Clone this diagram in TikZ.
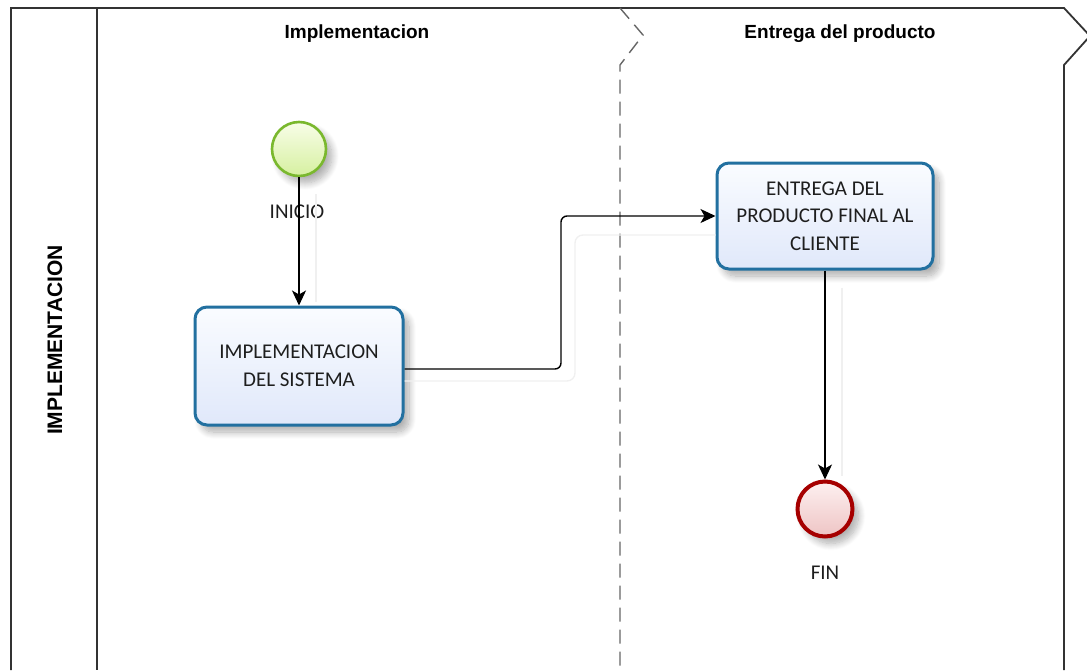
\documentclass[tikz,border=0pt]{standalone}
\usepackage{fontspec}
\setmainfont{Carlito}
\newfontfamily\headfont{Liberation Sans}
\usetikzlibrary{arrows.meta,shadows.blur}

\definecolor{taskedge}{RGB}{34,112,160}
\definecolor{tasktop}{RGB}{250,252,255}
\definecolor{taskbot}{RGB}{224,232,250}
\definecolor{startedge}{RGB}{122,184,46}
\definecolor{starttop}{RGB}{248,253,232}
\definecolor{startbot}{RGB}{214,240,160}
\definecolor{endedge}{RGB}{166,0,0}
\definecolor{endtop}{RGB}{253,240,240}
\definecolor{endbot}{RGB}{238,196,196}
\definecolor{inktext}{RGB}{30,30,30}

\begin{document}
\begin{tikzpicture}[x=1pt,y=-1pt,
  poolline/.style={draw=black!80, line width=1.8pt, line join=miter},
  lanesep/.style={draw=black!60, line width=1.4pt, dash pattern=on 14pt off 8pt},
  header/.style={font=\headfont\bfseries\fontsize{19}{22}\selectfont},
  soft/.style={blur shadow={shadow xshift=6pt, shadow yshift=-7pt, shadow blur steps=10, shadow opacity=32, shadow blur radius=7pt}},
  taskbox/.style={soft, draw=taskedge, line width=3pt, rounded corners=12pt,
    top color=tasktop, bottom color=taskbot, align=center, text=inktext,
    font=\fontsize{21}{27.5}\selectfont},
  startev/.style={soft, circle, draw=startedge, line width=2.6pt, minimum size=54pt,
    inner sep=0pt, top color=starttop, bottom color=startbot},
  endev/.style={soft, circle, draw=endedge, line width=4pt, minimum size=55pt,
    inner sep=0pt, top color=endtop, bottom color=endbot},
  evlabel/.style={font=\fontsize{21}{24}\selectfont, text=inktext},
  flow/.style={draw=black, line width=1.4pt, -{Stealth[length=15pt, width=14pt, inset=4pt]}},
  flowshade/.style={draw=black!6, line width=1.4pt}
]
\useasboundingbox (0,0) rectangle (1087,670);

% pool frame with the lane header column
\draw[poolline] (11,670) -- (11,8) -- (1064,8) -- (1090,36) -- (1064,65) -- (1064,670);
\draw[poolline] (97,8) -- (97,670);

% separator between the two phases
\draw[lanesep] (620,8) -- (643,35) -- (620,65) -- (620,670);

% headers
\node[header] (h1) at (357,34) {Implementacion};
\node[header] (h2) at (840,34) {Entrega del producto};
\node[header, rotate=90, font=\headfont\bfseries\fontsize{21}{24}\selectfont] (lane) at (55,340) {IMPLEMENTACION};

% bend points of the middle flow and of its faint shadow
\coordinate (bend) at (561,290);
\coordinate (bendsh) at (575,300);

% events and tasks
\node[startev] (start) at (299,149) {};
\node[evlabel] (startlbl) at (297,212) {INICIO};
\node[taskbox, minimum width=208pt, minimum height=118pt] (t1) at (299,366)
  {IMPLEMENTACION\\DEL SISTEMA};
\node[taskbox, minimum width=216pt, minimum height=106pt] (t2) at (825,216)
  {ENTREGA DEL\\PRODUCTO FINAL AL\\CLIENTE};
\node[endev] (fin) at (825,509) {};
\node[evlabel] (finlbl) at (825,573) {FIN};

% faint shadows of the sequence flows
\draw[flowshade] ([shift={(17,17)}]start.south) -- ([shift={(17,-4)}]t1.north);
\draw[flowshade, rounded corners=8pt] ([shift={(0,15)}]t1.east) -| (bendsh) |- ([shift={(0,19)}]t2.west);
\draw[flowshade] ([shift={(17,17)}]t2.south) -- ([shift={(17,-4)}]fin.north);

% sequence flows
\draw[flow] (start) -- (t1);
\draw[flow, rounded corners=6pt] ([yshift=-3pt]t1.east) -| (bend) |- (t2.west);
\draw[flow] (t2) -- (fin);
\end{tikzpicture}
\end{document}
